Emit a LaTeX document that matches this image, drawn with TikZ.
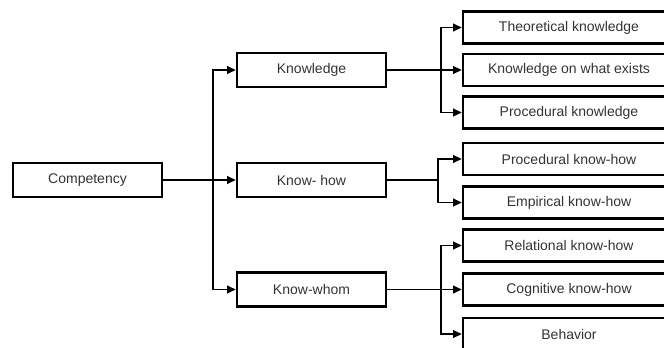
\documentclass[tikz,border=0pt]{standalone}
\usepackage{fontspec}
\setmainfont{Liberation Sans}
\usetikzlibrary{arrows.meta}
\tikzset{
  box/.style={draw, line width=2pt, rectangle, inner sep=0pt,
    text=black!80, font=\fontsize{10.5}{12}\selectfont},
  midbox/.style={box, minimum width=111.75pt, minimum height=25.5pt},
  leafbox/.style={box, minimum width=159pt, minimum height=24pt},
  link/.style={line width=0.8pt, -{Triangle[length=6.5pt,width=6pt]}},
  line/.style={line width=0.8pt}
}
\begin{document}
\begin{tikzpicture}[x=0.75pt,y=-0.75pt]
  \useasboundingbox (0,0) rectangle (664,347);
  \clip (0,0) rectangle (664,347);
  % left column
  \node[midbox] (comp) at (87.5,180) {Competency};
  \node[midbox] (kn) at (311.5,70) {Knowledge};
  \node[midbox] (kh) at (311.5,180) {Know- how};
  \node[midbox] (kw) at (311.5,289.5) {Know-whom};
  % right column
  \node[leafbox] (tk) at (569,27.5) {Theoretical knowledge};
  \node[leafbox] (ke) at (569,70) {Knowledge on what exists};
  \node[leafbox] (pk) at (569,112.5) {Procedural knowledge};
  \node[leafbox] (pkh) at (569,159) {Procedural know-how};
  \node[leafbox] (ekh) at (569,202.5) {Empirical know-how};
  \node[leafbox] (rkh) at (569,245.5) {Relational know-how};
  \node[leafbox] (ckh) at (569,289.5) {Cognitive know-how};
  \node[leafbox] (bh) at (569,334) {Behavior};
  % junctions
  \coordinate (j0) at (213,180);
  \coordinate (j1) at (441,70);
  \coordinate (j2) at (438,180);
  \coordinate (j3) at (441,289.5);
  % connectors
  \draw[link] (comp) -- (kh);
  \draw[link] (j0) |- (kn.west);
  \draw[link] (j0) |- (kw.west);
  \draw[link] (kn) -- (ke);
  \draw[link] (j1) |- (tk.west);
  \draw[link] (j1) |- (pk.west);
  \draw[line] (kh.east) -- (j2);
  \draw[link] (j2) |- (pkh.west);
  \draw[link] (j2) |- (ekh.west);
  \draw[link] (kw) -- (ckh);
  \draw[link] (j3) |- (rkh.west);
  \draw[link] (j3) |- (bh.west);
\end{tikzpicture}
\end{document}
